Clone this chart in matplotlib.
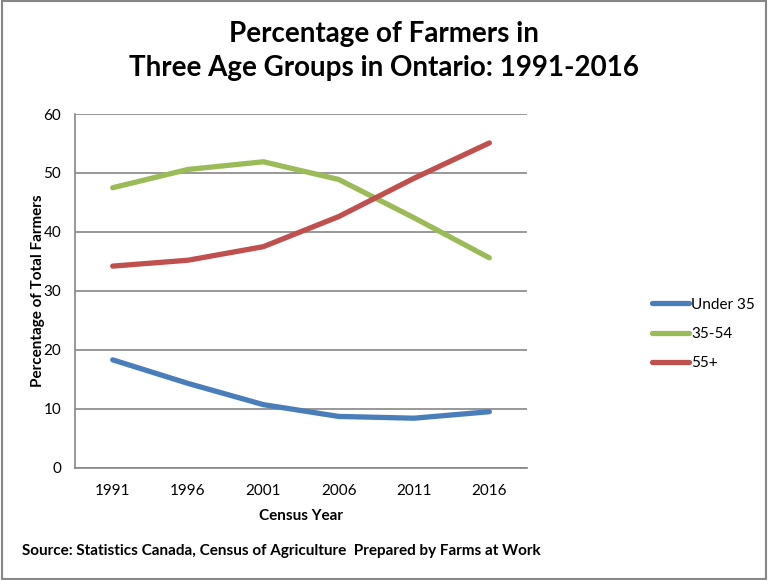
import matplotlib
matplotlib.use("Agg")
import matplotlib.pyplot as plt
from matplotlib.patches import Rectangle

# -----------------------------
# Data
# -----------------------------
years = ["1991", "1996", "2001", "2006", "2011", "2016"]
under_35 = [18.3, 14.3, 10.7, 8.7, 8.4, 9.5]
age_35_54 = [47.5, 50.6, 51.9, 48.9, 42.4, 35.6]
age_55_plus = [34.2, 35.2, 37.5, 42.6, 49.1, 55.1]

series = [
    ("Under 35", under_35, "#4A7EBB"),
    ("35-54", age_35_54, "#9BBB59"),
    ("55+", age_55_plus, "#C0504D"),
]

plt.rcParams["font.family"] = ["Lato", "DejaVu Sans"]

fig = plt.figure(figsize=(7.68, 5.80), dpi=100)
ax = fig.add_axes([0.0977, 0.1936, 0.5885, 0.6098])

x = range(len(years))
for name, vals, color in series:
    ax.plot(x, vals, color=color, linewidth=3.8, label=name,
            solid_capstyle="round", solid_joinstyle="round")

ax.set_xlim(-0.5, len(years) - 0.5)
ax.set_ylim(0, 60)
ax.set_yticks(range(0, 61, 10))
ax.set_xticks(list(x))
ax.set_xticklabels(years)
ax.tick_params(axis="both", length=0, labelsize=11, colors="black")
ax.tick_params(axis="x", pad=12)
ax.tick_params(axis="y", pad=10)

ax.grid(axis="y", color="#868686", linewidth=1.2)
ax.set_axisbelow(True)
for side in ["top", "right"]:
    ax.spines[side].set_visible(False)
for side in ["left", "bottom"]:
    ax.spines[side].set_color("#868686")
    ax.spines[side].set_linewidth(1.2)

ax.set_xlabel("Census Year", fontsize=11, fontweight="bold", labelpad=8)
ax.set_ylabel("Percentage of Total Farmers", fontsize=11, fontweight="bold", labelpad=-1)

fig.text(0.5, 0.942, "Percentage of Farmers in", ha="center", va="center",
         fontsize=20, fontweight="bold")
fig.text(0.5, 0.882, "Three Age Groups in Ontario: 1991-2016", ha="center", va="center",
         fontsize=20, fontweight="bold")

ax.legend(loc="center left", bbox_to_anchor=(1.2765, 0.378), frameon=False,
          borderaxespad=0, borderpad=0,
          fontsize=11, handlelength=2.4, handletextpad=0.15, labelspacing=1.0)

fig.text(0.029, 0.05, "Source: Statistics Canada, Census of Agriculture  Prepared by Farms at Work",
         ha="left", va="center", fontsize=11, fontweight="bold")

# grey frame round the whole picture
fig.patches.append(Rectangle((0.002, 0.002), 0.996, 0.996, transform=fig.transFigure,
                             fill=False, edgecolor="#868686", linewidth=1.5))

fig.savefig("out.png", dpi=100)
